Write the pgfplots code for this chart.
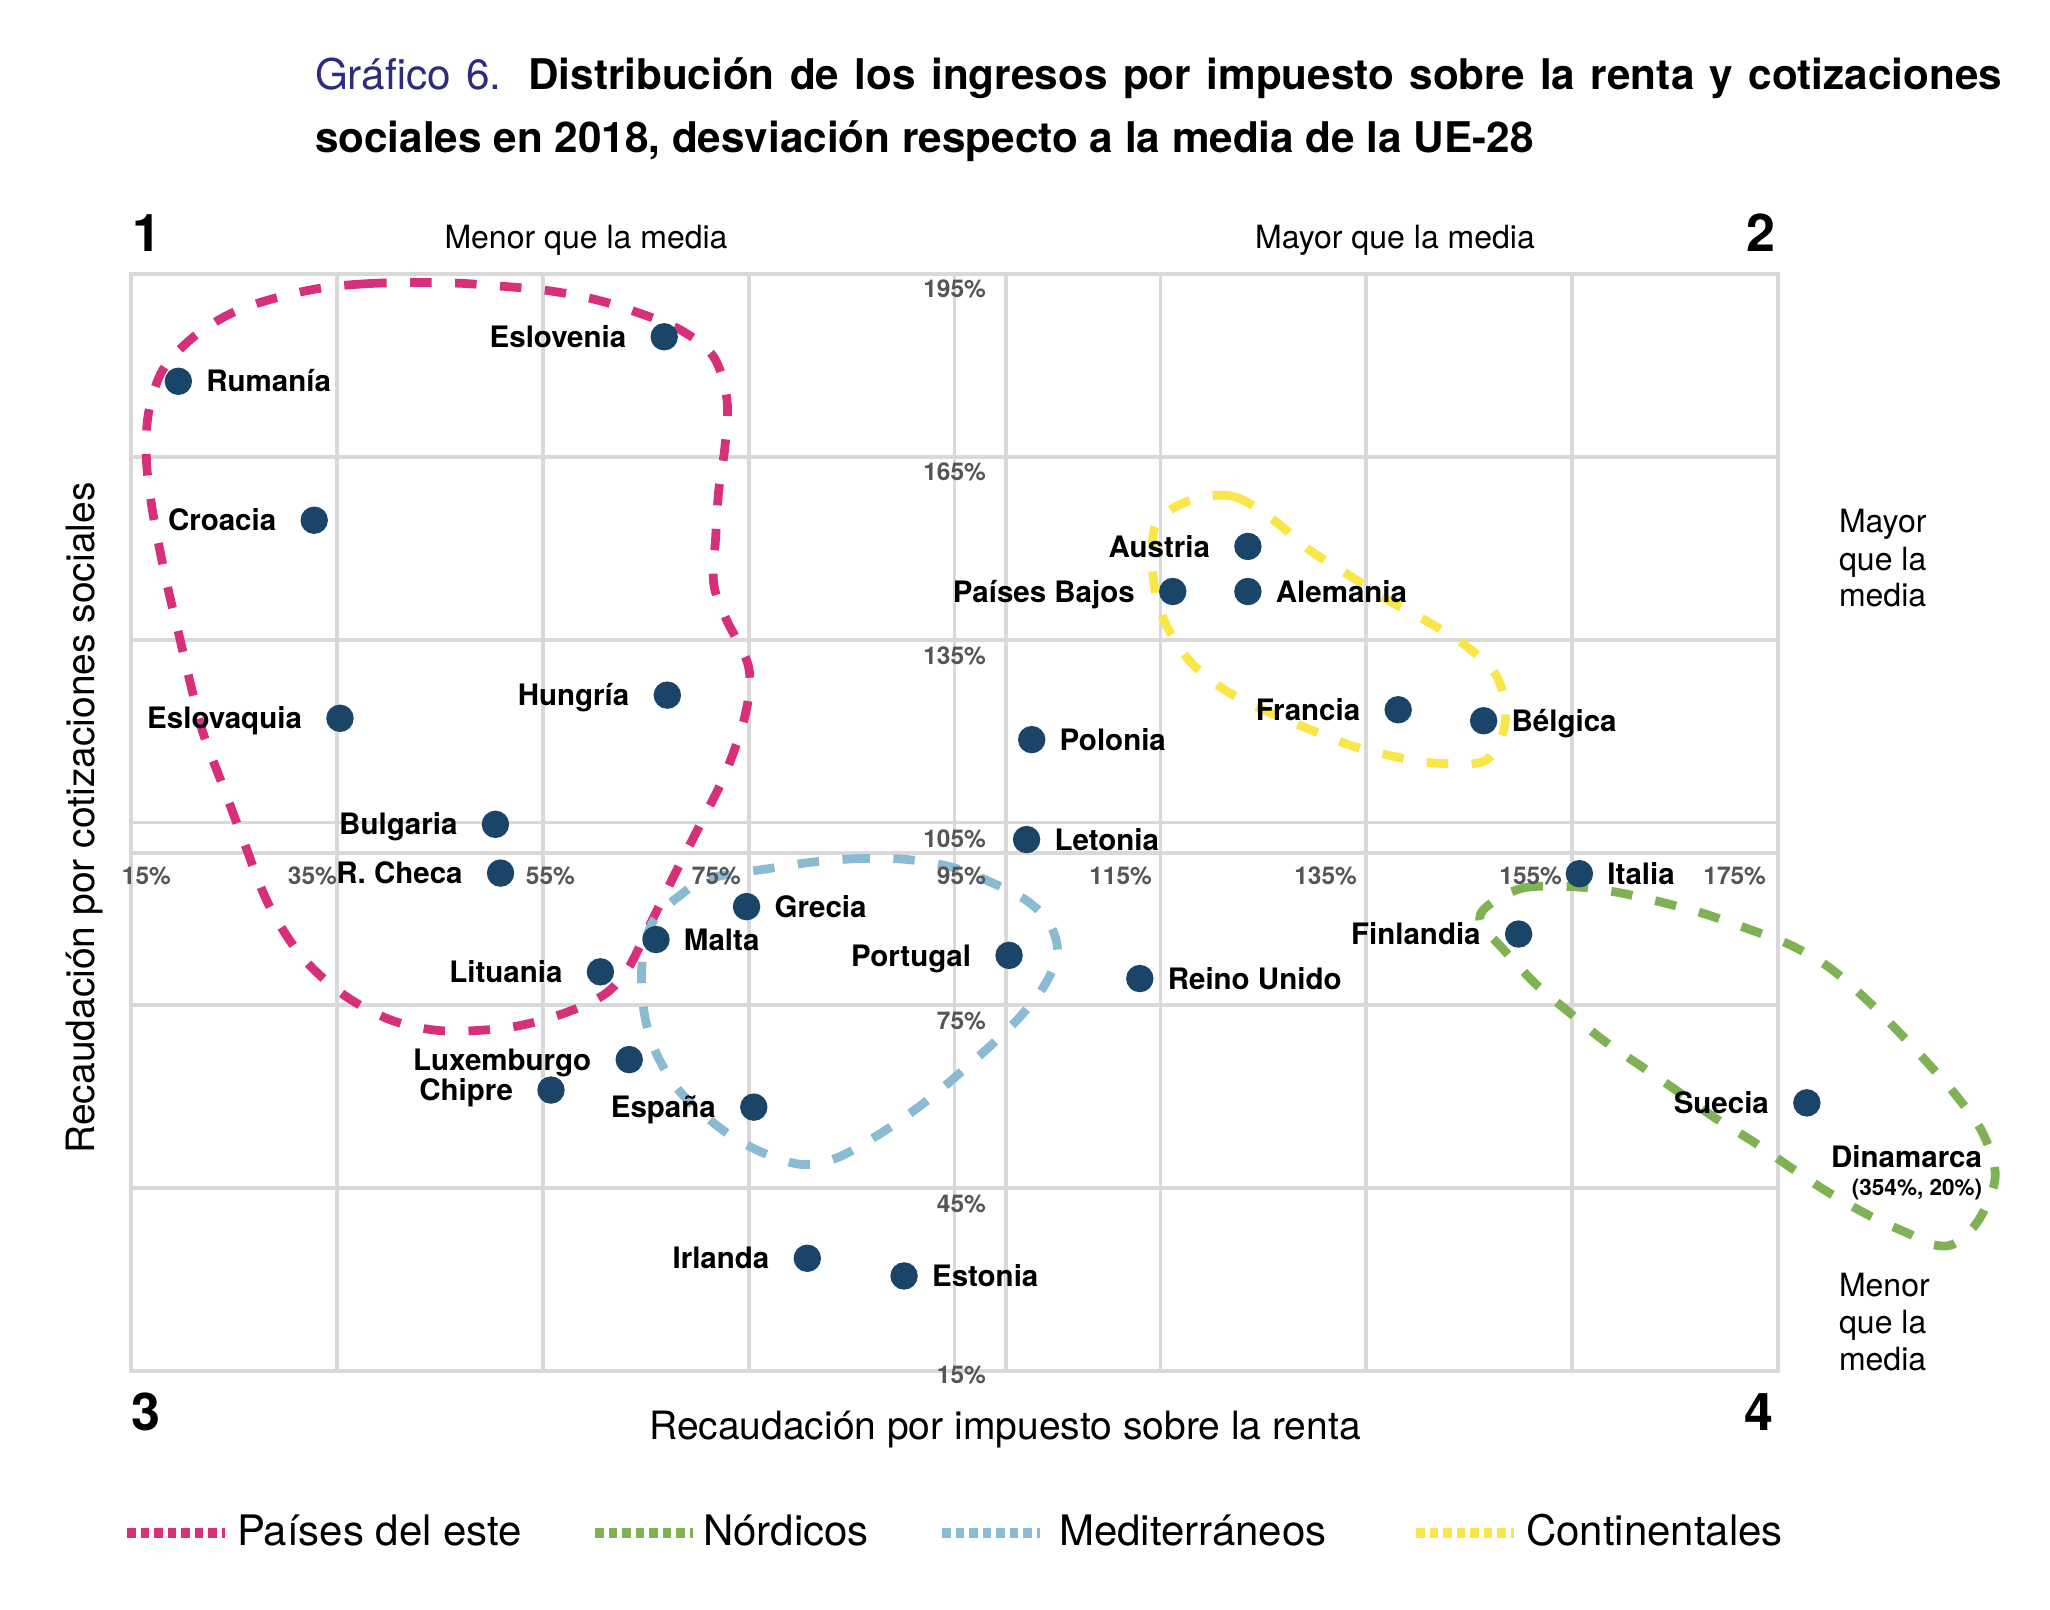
\documentclass[border=0pt]{standalone}
\usepackage{fontspec}
\setmainfont{TeX Gyre Heros}
\usepackage{pgfplots}
\usepackage{pgfplotstable}
\pgfplotsset{compat=1.18}
\definecolor{cpink}{RGB}{214,48,122}
\definecolor{cgreen}{RGB}{126,178,84}
\definecolor{cblue}{RGB}{139,186,211}
\definecolor{cyellow}{RGB}{250,230,72}
\definecolor{cpoint}{RGB}{26,69,104}
\definecolor{cgrid}{RGB}{217,217,217}
\definecolor{ctick}{RGB}{85,85,85}
\definecolor{ctitle}{RGB}{46,43,125}
\tikzset{grpline/.style={line width=1.75pt, dash pattern=on 4.3pt off 4.7pt}}

\newcommand{\labfont}{\fontsize{5.9}{7}\selectfont\bfseries}
\newcommand{\tickfont}{\fontsize{4.9}{5.8}\selectfont\bfseries\color{ctick}}
\newcommand{\notefont}{\fontsize{6.4}{7.4}\selectfont}
\newcommand{\bigfont}{\fontsize{10.4}{11}\selectfont\bfseries}
\newcommand{\axfont}{\fontsize{7.8}{9}\selectfont}
\newcommand{\legfont}{\fontsize{8.4}{10}\selectfont}
\newcommand{\titfont}{\fontsize{8.45}{10}\selectfont}

\pgfplotstableread[col sep=comma]{
x,y,label
19.6,177.4,Rumanía
102.5,118.6,Polonia
102.0,102.2,Letonia
123.5,142.9,Alemania
146.4,121.7,Bélgica
155.7,96.6,Italia
74.8,91.2,Grecia
66.0,85.8,Malta
113.0,79.4,Reino Unido
90.1,30.6,Estonia
}\rightlab

\pgfplotstableread[col sep=comma]{
x,y,label
66.8,184.7,Eslovenia
32.8,154.6,Croacia
67.1,125.9,Hungría
35.3,122.1,Eslovaquia
50.4,104.7,Bulgaria
50.9,96.7,R. Checa
60.6,80.5,Lituania
63.4,66.1,Luxemburgo
55.8,61.1,Chipre
75.5,58.3,España
80.7,33.5,Irlanda
100.3,83.2,Portugal
123.5,150.3,Austria
116.2,142.9,Países Bajos
138.1,123.5,Francia
149.8,86.7,Finlandia
177.8,59.0,Suecia
}\leftlab

\begin{document}
\begin{tikzpicture}
\begin{scope}[x=0.2pt,y=-0.2pt]
\useasboundingbox (0,0) rectangle (2050,1610);
\end{scope}

\begin{axis}[
  at={(26.2pt,-274.2pt)}, anchor=south west,
  width=329.4pt, height=219.4pt, scale only axis,
  xmin=15, xmax=175, ymin=15, ymax=195,
  xtick={15,35,...,175}, ytick={15,45,...,195},
  xticklabels={}, yticklabels={},
  extra x ticks={100}, extra y ticks={100},
  extra x tick labels={}, extra y tick labels={},
  extra tick style={grid style={color=cgrid, line width=1.9pt}},
  major tick length=0pt,
  grid=major,
  major grid style={color=cgrid, line width=0.75pt},
  axis line style={color=cgrid, line width=0.75pt},
  clip=false,
]

% group outlines
\draw[grpline, cpink] plot[smooth cycle, tension=0.55] coordinates {
(axis cs:42.2,193.6) (axis cs:37.8,193.4) (axis cs:33.5,192.7) (axis cs:28.9,191.0)
(axis cs:24.8,188.6) (axis cs:21.1,184.7) (axis cs:18.1,179.3) (axis cs:16.7,172.2)
(axis cs:16.5,164.5) (axis cs:17.0,157.1) (axis cs:17.8,149.7) (axis cs:18.7,142.6)
(axis cs:19.7,135.5) (axis cs:20.7,128.3) (axis cs:22.0,119.7) (axis cs:23.9,111.1)
(axis cs:25.8,102.6) (axis cs:28.3,91.8) (axis cs:31.5,83.2) (axis cs:35.6,76.8)
(axis cs:40.4,72.5) (axis cs:45.5,70.8) (axis cs:51.8,71.4) (axis cs:56.9,73.6)
(axis cs:61.0,76.8) (axis cs:63.3,81.1) (axis cs:65.2,87.5) (axis cs:67.7,96.1)
(axis cs:70.3,104.7) (axis cs:72.8,113.3) (axis cs:74.7,122.9) (axis cs:75.0,130.5)
(axis cs:72.7,138.8) (axis cs:71.6,144.3) (axis cs:71.8,151.9) (axis cs:72.1,159.6)
(axis cs:72.7,166.7) (axis cs:72.9,174.3) (axis cs:71.6,181.4) (axis cs:68.4,185.8)
(axis cs:64.0,188.8) (axis cs:59.9,190.9) (axis cs:55.4,192.3) (axis cs:51.0,193.0)
(axis cs:46.7,193.5)};

\draw[grpline, cblue] plot[smooth cycle, tension=0.55] coordinates {
(axis cs:90.6,98.9) (axis cs:86.2,99.1) (axis cs:81.7,98.6) (axis cs:77.2,97.5)
(axis cs:71.1,95.8) (axis cs:68.3,93.0) (axis cs:65.8,89.0) (axis cs:64.8,84.0)
(axis cs:64.6,78.5) (axis cs:65.0,72.5) (axis cs:66.2,66.5) (axis cs:68.4,60.7)
(axis cs:72.2,54.9) (axis cs:76.0,51.1) (axis cs:80.1,48.9) (axis cs:83.6,50.0)
(axis cs:88.1,54.3) (axis cs:92.5,59.6) (axis cs:97.0,66.1) (axis cs:100.8,72.1)
(axis cs:103.6,77.9) (axis cs:105.0,83.5) (axis cs:104.2,88.5) (axis cs:102.0,92.2)
(axis cs:98.8,95.0) (axis cs:94.9,97.6)};

\draw[grpline, cyellow] plot[smooth cycle, tension=0.55] coordinates {
(axis cs:118.0,157.9) (axis cs:122.1,158.5) (axis cs:126.0,154.6) (axis cs:129.5,149.7)
(axis cs:133.3,145.6) (axis cs:137.1,141.5) (axis cs:140.9,138.0) (axis cs:144.6,134.1)
(axis cs:147.7,128.9) (axis cs:148.5,121.5) (axis cs:146.7,115.3) (axis cs:142.2,114.7)
(axis cs:137.8,115.8) (axis cs:133.4,117.7) (axis cs:129.2,120.5) (axis cs:125.0,123.5)
(axis cs:121.3,126.7) (axis cs:117.9,131.4) (axis cs:115.4,138.0) (axis cs:114.3,145.3)
(axis cs:114.6,154.1)};

\draw[grpline, cgreen] plot[smooth cycle, tension=0.55] coordinates {
(axis cs:146.7,91.2) (axis cs:150.1,94.2) (axis cs:154.8,94.5) (axis cs:159.2,93.6)
(axis cs:163.5,92.0) (axis cs:167.7,90.1) (axis cs:172.0,87.6) (axis cs:176.2,84.9)
(axis cs:179.9,81.3) (axis cs:183.3,76.4) (axis cs:186.4,71.2) (axis cs:189.4,65.8)
(axis cs:192.4,60.0) (axis cs:194.9,54.0) (axis cs:196.1,46.9) (axis cs:194.5,39.8)
(axis cs:192.0,35.8) (axis cs:189.6,35.9) (axis cs:188.0,37.3) (axis cs:184.1,40.3)
(axis cs:180.0,44.2) (axis cs:176.3,48.3) (axis cs:172.8,52.4) (axis cs:168.9,56.5)
(axis cs:165.5,60.6) (axis cs:161.8,64.9) (axis cs:158.0,69.3) (axis cs:154.6,74.0)
(axis cs:151.4,78.6) (axis cs:148.2,84.4) (axis cs:146.1,88.5)};

% points with labels on the right
\addplot[only marks, mark=*, mark size=2.54pt, color=cpoint,
  point meta=explicit symbolic, nodes near coords,
  every node near coord/.append style={anchor=west, xshift=5.4pt, yshift=0pt,
    inner sep=0pt, text height=4.25pt, text depth=0pt, text=black, font=\labfont}]
  table[x=x, y=y, meta=label] {\rightlab};

% points with labels on the left
\addplot[only marks, mark=*, mark size=2.54pt, color=cpoint,
  point meta=explicit symbolic, nodes near coords,
  every node near coord/.append style={anchor=east, xshift=-7.4pt, yshift=0pt,
    inner sep=0pt, text height=4.25pt, text depth=0pt, text=black, font=\labfont}]
  table[x=x, y=y, meta=label] {\leftlab};
\end{axis}

\begin{scope}[x=0.2pt,y=-0.2pt]
% title
\node[anchor=base west, inner sep=0pt] at (314,90) {\titfont\hbox to 337.4pt{{\color{ctitle}Gráfico 6.} \bfseries Distribución de los ingresos por impuesto sobre la renta y cotizaciones}};
\node[anchor=base west, inner sep=0pt] at (314,153) {\titfont\bfseries sociales en 2018, desviación respecto a la media de la UE-28};

% quadrant numbers
\node[anchor=base west, inner sep=0pt] at (131,252) {\bigfont 1};
\node[anchor=base east, inner sep=0pt] at (1776,252) {\bigfont 2};
\node[anchor=base west, inner sep=0pt] at (130,1430) {\bigfont 3};
\node[anchor=base east, inner sep=0pt] at (1774,1430) {\bigfont 4};

% notes
\node[anchor=base, inner sep=0pt] at (586,249) {\notefont Menor que la media};
\node[anchor=base, inner sep=0pt] at (1395,249) {\notefont Mayor que la media};
\node[anchor=base west, inner sep=0pt] at (1838,533) {\notefont Mayor};
\node[anchor=base west, inner sep=0pt] at (1838,570) {\notefont que la};
\node[anchor=base west, inner sep=0pt] at (1838,607) {\notefont media};
\node[anchor=base west, inner sep=0pt] at (1838,1296) {\notefont Menor};
\node[anchor=base west, inner sep=0pt] at (1838,1333) {\notefont que la};
\node[anchor=base west, inner sep=0pt] at (1838,1370) {\notefont media};

% Dinamarca (off the chart)
\node[anchor=base east, inner sep=0pt] at (1983,1167) {\labfont Dinamarca};
\node[anchor=base east, inner sep=0pt] at (1983,1195) {\fontsize{4.5}{5.4}\selectfont\bfseries (354\%, 20\%)};

% x tick labels
\node[anchor=base east, inner sep=0pt] at (172,884) {\tickfont 15\%};
\node[anchor=base east, inner sep=0pt] at (338,884) {\tickfont 35\%};
\node[anchor=base east, inner sep=0pt] at (576,884) {\tickfont 55\%};
\node[anchor=base east, inner sep=0pt] at (742,884) {\tickfont 75\%};
\node[anchor=base east, inner sep=0pt] at (987,884) {\tickfont 95\%};
\node[anchor=base east, inner sep=0pt] at (1153,884) {\tickfont 115\%};
\node[anchor=base east, inner sep=0pt] at (1358,884) {\tickfont 135\%};
\node[anchor=base east, inner sep=0pt] at (1563,884) {\tickfont 155\%};
\node[anchor=base east, inner sep=0pt] at (1767,884) {\tickfont 175\%};
% y tick labels
\node[anchor=base east, inner sep=0pt] at (987,298) {\tickfont 195\%};
\node[anchor=base east, inner sep=0pt] at (987,481) {\tickfont 165\%};
\node[anchor=base east, inner sep=0pt] at (987,664) {\tickfont 135\%};
\node[anchor=base east, inner sep=0pt] at (987,847) {\tickfont 105\%};
\node[anchor=base east, inner sep=0pt] at (987,1029) {\tickfont 75\%};
\node[anchor=base east, inner sep=0pt] at (987,1212) {\tickfont 45\%};
\node[anchor=base east, inner sep=0pt] at (987,1383) {\tickfont 15\%};

% axis titles
\node[anchor=base, inner sep=0pt] at (1005,1439) {\axfont Recaudación por impuesto sobre la renta};
\node[rotate=90, inner sep=0pt] at (85,818) {\axfont Recaudación por cotizaciones sociales};

% legend
\begin{scope}[line width=1.9pt, dash pattern=on 1.7pt off 1pt]
\draw[cpink] (127,1533) -- (225,1533);
\draw[cgreen] (595,1533) -- (693,1533);
\draw[cblue] (942,1533) -- (1040,1533);
\draw[cyellow] (1416,1533) -- (1514,1533);
\end{scope}
\node[anchor=base west, inner sep=0pt] at (236,1545) {\legfont Países del este};
\node[anchor=base west, inner sep=0pt] at (702,1545) {\legfont Nórdicos};
\node[anchor=base west, inner sep=0pt] at (1058,1545) {\legfont Mediterráneos};
\node[anchor=base west, inner sep=0pt] at (1525,1545) {\legfont Continentales};
\end{scope}
\end{tikzpicture}
\end{document}
